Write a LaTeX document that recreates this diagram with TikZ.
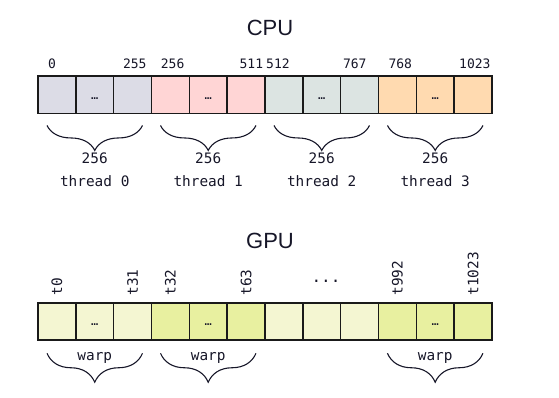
\documentclass[tikz,border=0pt]{standalone}
\usepackage{fontspec}
\setmainfont{Liberation Sans}
\setmonofont{DejaVu Sans Mono}
\usetikzlibrary{positioning, decorations.pathreplacing}
\definecolor{texto}{RGB}{22,22,40}
\definecolor{borde}{RGB}{26,26,26}
\definecolor{cpuA}{HTML}{DCDCE6}
\definecolor{cpuB}{HTML}{FFD5D5}
\definecolor{cpuC}{HTML}{DCE4E2}
\definecolor{cpuD}{HTML}{FFDAB0}
\definecolor{gpuA}{HTML}{F4F6D2}
\definecolor{gpuB}{HTML}{E8F0A0}
\tikzstyle{celda} = [draw=borde, line width=1.6pt, minimum width=37.83pt, minimum height=37.5pt, inner sep=0pt, outer sep=0pt]
\tikzstyle{titulo} = [font=\fontsize{22}{26}\selectfont, text=texto]
\tikzstyle{indice} = [font=\ttfamily\fontsize{13}{15}\selectfont, text=texto, inner sep=0pt]
\tikzstyle{etiqueta} = [font=\ttfamily\fontsize{14.4}{17}\selectfont, text=texto, inner sep=0pt]
\tikzstyle{puntos} = [font=\ttfamily\fontsize{12}{14}\selectfont, text=texto, inner sep=0pt]
\tikzstyle{llave} = [decorate, draw=texto, line width=1.1pt]

\begin{document}
\begin{tikzpicture}[x=1pt, y=-1pt]
	\useasboundingbox (0,0) rectangle (559,397);
	% CPU
	\node[titulo] (cpu) at (270,28) {CPU};
	\foreach \i/\col in {0/cpuA,1/cpuA,2/cpuA,3/cpuB,4/cpuB,5/cpuB,6/cpuC,7/cpuC,8/cpuC,9/cpuD,10/cpuD,11/cpuD}
		\node[celda, fill=\col] (c\i) at ({56.92+37.83*\i},94.7) {};
	\foreach \i in {1,4,7,10}
		\node[puntos] at ([yshift=-3.5pt]c\i.center) {…};
	\foreach \x/\t in {48/0,160.7/256,266/512,388.3/768}
		\node[indice, anchor=west] (ini\t) at (\x,64) {\t};
	\foreach \x/\t in {146.7/255,263.3/511,366.7/767,490.7/1023}
		\node[indice, anchor=east] (fin\t) at (\x,64) {\t};
	\foreach \a/\b/\m/\k in {0/2/1/0,3/5/4/1,6/8/7/2,9/11/10/3} {
		\draw[llave, decoration={brace, mirror, amplitude=25pt}] ([xshift=9pt,yshift=-12pt]c\a.south west) -- ([xshift=-9pt,yshift=-12pt]c\b.south east);
		\node[etiqueta, below=39pt of c\m] (n\k) {256};
		\node[etiqueta, below=12pt of n\k] (hilo\k) {thread \k};
	}
	% GPU
	\node[titulo] (gpu) at (270,241) {GPU};
	\foreach \i/\col in {0/gpuA,1/gpuA,2/gpuA,3/gpuB,4/gpuB,5/gpuB,6/gpuA,7/gpuA,8/gpuA,9/gpuB,10/gpuB,11/gpuB}
		\node[celda, fill=\col] (g\i) at ({56.92+37.83*\i},321.5) {};
	\foreach \i in {1,4,10}
		\node[puntos] at ([yshift=-3.5pt]g\i.center) {…};
	\node[font=\ttfamily\fontsize{16}{18}\selectfont, text=texto, inner sep=0pt] (medio) at (326,281) {...};
	\foreach \i/\t in {0/t0,2/t31,3/t32,5/t63,9/t992,11/t1023}
		\node[etiqueta, rotate=90, anchor=west] (r\i) at ([yshift=7pt]g\i.north) {\t};
	\foreach \a/\b/\m in {0/2/1,3/5/4,9/11/10} {
		\draw[llave, decoration={brace, mirror, amplitude=29pt}] ([xshift=9pt,yshift=-13pt]g\a.south west) -- ([xshift=-9pt,yshift=-13pt]g\b.south east);
		\node[etiqueta, below=12pt of g\m] (w\m) {warp};
	}
\end{tikzpicture}
\end{document}
